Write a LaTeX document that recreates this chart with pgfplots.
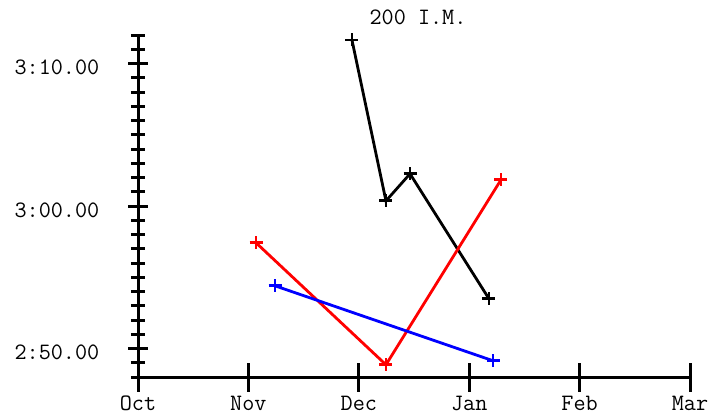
\documentclass[border=0pt]{standalone}
\usepackage{fontspec}
\usepackage{pgfplots}
\pgfplotsset{compat=1.18}
\newcommand{\lf}{\ttfamily\fontsize{23.5}{27}\selectfont}
\begin{document}
\begin{tikzpicture}
\useasboundingbox (0,0) rectangle (727pt,418pt);
\begin{axis}[
  at={(138pt,41pt)}, anchor=south west,
  scale only axis, width=552pt, height=342pt,
  xmin=0, xmax=5, ymin=168, ymax=192,
  axis x line=bottom, axis y line=left,
  axis line style={line width=3pt,-},
  tick align=center,
  tick style={line width=3pt, black},
  major tick length=19pt, minor tick length=14pt,
  xtick=\empty,
  extra x ticks={0,1,2,3,4,5},
  extra x tick labels={Oct,Nov,Dec,Jan,Feb,Mar},
  extra x tick style={major tick length=29pt, tick align=center},
  ytick={170,180,190}, yticklabels={2:50.00,3:00.00,3:10.00},
  minor ytick={168,169,...,192},
  yticklabel style={font=\lf, anchor=east, inner sep=0pt, xshift=-29pt, yshift=-4pt},
  xticklabel style={font=\lf, anchor=base, inner sep=0pt, yshift=-19pt},
  title={200 I.M.},
  title style={font=\lf, at={(0.5,1)}, anchor=base, inner sep=0pt, yshift=5pt, xshift=4pt},
  every axis plot/.append style={line width=2.8pt, mark=+, mark size=6.5pt, mark options={solid}},
  clip=false,
]
\addplot[black] coordinates {(1.938,191.65) (2.246,180.36) (2.464,182.26) (3.179,173.49)};
\addplot[red] coordinates {(1.069,177.42) (2.246,168.86) (3.288,181.84)};
\addplot[blue] coordinates {(1.241,174.40) (3.216,169.14)};
\end{axis}
\end{tikzpicture}
\end{document}
